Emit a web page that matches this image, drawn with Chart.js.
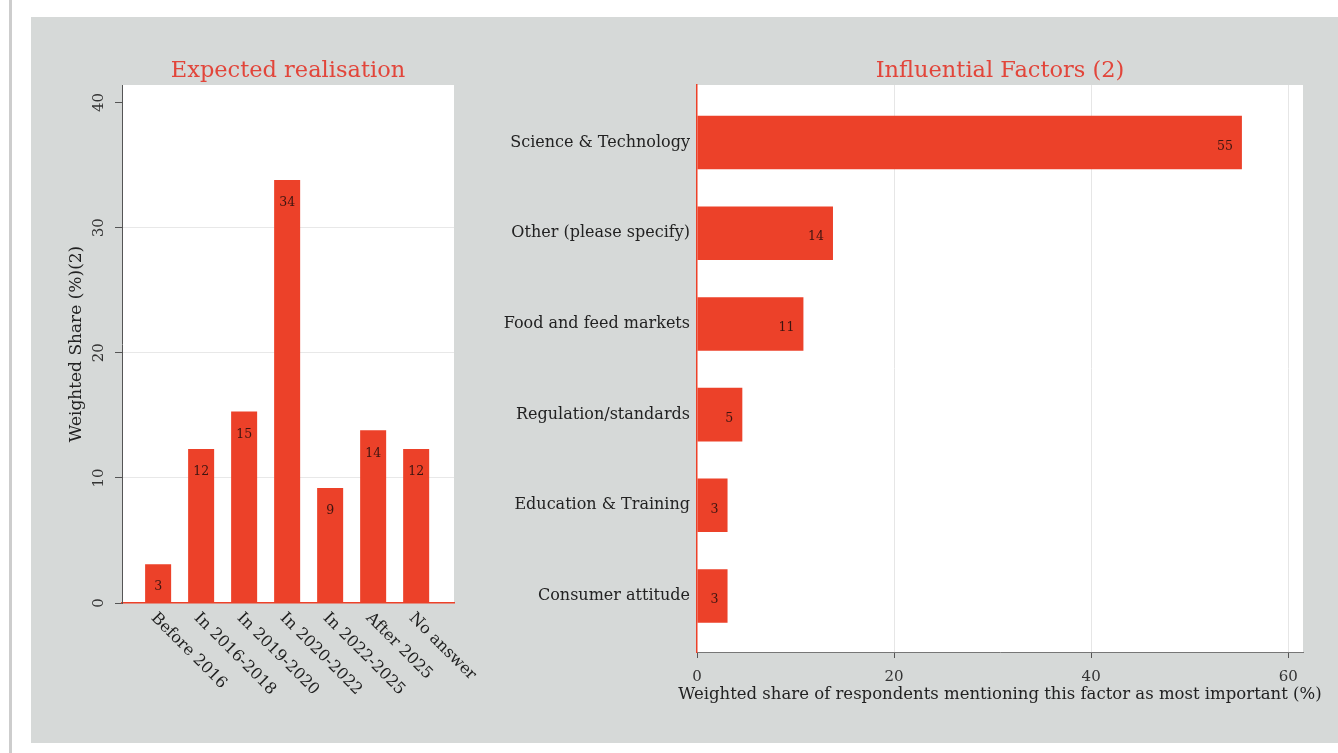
<!DOCTYPE html>
<html><head><meta charset="utf-8">
<script src="https://cdn.jsdelivr.net/npm/chart.js@4.4.1/dist/chart.umd.min.js"></script>
<style>
html,body{margin:0;padding:0;background:#fff;width:1338px;height:753px;overflow:hidden;}
#vline{position:absolute;left:9px;top:0;width:3px;height:753px;background:#cdcdcd;}
#panel{position:absolute;left:31px;top:17px;width:1307px;height:726px;background:#d6d9d8;}
#c1{position:absolute;left:31px;top:17px;width:450px;height:726px;}
#c2{position:absolute;left:481px;top:17px;width:857px;height:726px;}
</style></head><body>
<div id="vline"></div><div id="panel"></div>
<canvas id="c1" width="450" height="726"></canvas>
<canvas id="c2" width="857" height="726"></canvas>
<script>
// ---- data ----
const realisationCategories = ['Before 2016','In 2016-2018','In 2019-2020','In 2020-2022','In 2022-2025','After 2025','No answer'];
const realisationShares = [3.1, 12.3, 15.3, 33.8, 9.2, 13.8, 12.3];
const realisationTicks = [0, 10, 20, 30, 40];

const factorCategories = ['Science & Technology','Other (please specify)','Food and feed markets','Regulation/standards','Education & Training','Consumer attitude'];
const factorShares = [55.3, 13.8, 10.8, 4.6, 3.1, 3.1];
const factorTicks = [0, 20, 40, 60];
const factorAxisTitle = 'Weighted share of respondents mentioning this factor as most important (%)';

// ---- styles ----
const FONT = "'DejaVu Serif', serif";
Chart.defaults.font.family = FONT;
Chart.defaults.color = '#333';
const BAR = '#ec4129';
const TITLE = '#e2453a';
const LABEL_DARK = '#3d1510';

const plotBg = {id:'plotBg', beforeDraw(chart){
  const {ctx, chartArea:a} = chart;
  ctx.save(); ctx.fillStyle = '#fff'; ctx.fillRect(a.left, a.top, a.width, a.height); ctx.restore();
}};

const valueLabels = {id:'valueLabels', afterDatasetsDraw(chart, args, opts){
  const ctx = chart.ctx; const meta = chart.getDatasetMeta(0);
  ctx.save(); ctx.font = '12.5px ' + FONT; ctx.fillStyle = LABEL_DARK;
  meta.data.forEach((bar, i) => {
    const txt = String(Math.round(opts.values[i]));
    if (opts.horizontal) {
      ctx.textAlign = 'right'; ctx.textBaseline = 'middle';
      ctx.fillText(txt, bar.x - 9, bar.y + 4);
    } else {
      ctx.textAlign = 'center'; ctx.textBaseline = 'middle';
      ctx.fillText(txt, bar.x, bar.y + 23);
    }
  });
  ctx.restore();
}};

const slantedLabels = {id:'slantedLabels', afterDraw(chart, args, opts){
  if (!opts.labels) return;
  const xs = chart.scales.x; const ctx = chart.ctx;
  ctx.save(); ctx.font = '16px ' + FONT; ctx.fillStyle = '#222';
  ctx.textAlign = 'left'; ctx.textBaseline = 'top';
  opts.labels.forEach((c, i) => {
    const px = xs.getPixelForValue(i);
    ctx.save(); ctx.translate(px + 1, chart.chartArea.bottom + 7); ctx.rotate(Math.PI / 4);
    ctx.fillText(c, 0, 0); ctx.restore();
  });
  ctx.restore();
}};

const wideAxisTitle = {id:'wideAxisTitle', afterDraw(chart, args, opts){
  if (!opts.text) return;
  const a = chart.chartArea; const ctx = chart.ctx;
  ctx.save(); ctx.font = '16.5px ' + FONT; ctx.fillStyle = '#222';
  ctx.textAlign = 'center'; ctx.textBaseline = 'middle';
  ctx.fillText(opts.text, (a.left + a.right) / 2, a.bottom + 43);
  ctx.restore();
}};

new Chart(document.getElementById('c1'), {
  type: 'bar',
  data: { datasets: [{
    data: realisationShares.map((v, i) => ({x: i, y: v})),
    backgroundColor: BAR, borderWidth: 0, categoryPercentage: 1, barPercentage: 0.605
  }]},
  plugins: [plotBg, valueLabels, slantedLabels],
  options: {
    responsive: false, animation: false,
    layout: { padding: {left: 0, right: 27, top: 0, bottom: 0} },
    plugins: {
      legend: {display: false}, tooltip: {enabled: false},
      title: {display: true, text: 'Expected realisation', color: TITLE, fullSize: false,
              font: {size: 22.5, weight: 'normal'}, padding: {top: 41, bottom: 0}},
      valueLabels: {values: realisationShares, horizontal: false},
      slantedLabels: {labels: realisationCategories}
    },
    scales: {
      x: { type: 'linear', min: -0.84, max: 6.88, offset: false,
           afterBuildTicks(s){ s.ticks = realisationCategories.map((_, i) => ({value: i})); },
           ticks: {display: false}, grid: {display: false, drawTicks: false, offset: false},
           border: {display: true, color: BAR, width: 1.5},
           afterFit(s){ s.height = 140; } },
      y: { type: 'linear', min: 0, max: 41.4,
           afterBuildTicks(s){ s.ticks = realisationTicks.map(v => ({value: v})); },
           ticks: {minRotation: 90, maxRotation: 90, crossAlign: 'center', padding: 6, color: '#333', font: {size: 15}},
           grid: {color: c => (c.tick && c.tick.value > 0 && c.tick.value < 40) ? '#e8e8e8' : 'rgba(0,0,0,0)',
                  tickColor: '#555', tickLength: 7, drawTicks: true},
           border: {color: '#555', width: 1},
           title: {display: true, text: 'Weighted Share (%)(2)', color: '#222', font: {size: 17}, padding: {top: 35}},
           afterFit(s){ s.width = 91; } }
    }
  }
});

new Chart(document.getElementById('c2'), {
  type: 'bar',
  data: { datasets: [{
    data: factorShares.map((v, i) => ({x: v, y: i})),
    backgroundColor: BAR, borderWidth: 0, categoryPercentage: 1, barPercentage: 0.59
  }]},
  plugins: [plotBg, valueLabels, wideAxisTitle],
  options: {
    indexAxis: 'y',
    responsive: false, animation: false,
    layout: { padding: {left: 0, right: 35, top: 0, bottom: 0} },
    plugins: {
      legend: {display: false}, tooltip: {enabled: false},
      title: {display: true, text: 'Influential Factors (2)', color: TITLE, fullSize: false,
              font: {size: 22.5, weight: 'normal'}, padding: {top: 41, bottom: 0}},
      valueLabels: {values: factorShares, horizontal: true},
      wideAxisTitle: {text: factorAxisTitle}
    },
    scales: {
      x: { type: 'linear', min: 0, max: 61.5,
           afterBuildTicks(s){ s.ticks = factorTicks.map(v => ({value: v})); },
           ticks: {padding: 10, color: '#333', font: {size: 15}},
           grid: {color: c => (c.tick && c.tick.value > 0) ? '#e6e6e6' : 'rgba(0,0,0,0)',
                  tickColor: '#555', tickLength: 6},
           border: {color: '#777', width: 1},
           afterFit(s){ s.height = 91; } },
      y: { type: 'linear', reverse: true, min: -0.634, max: 5.617, offset: false,
           afterBuildTicks(s){ s.ticks = factorCategories.map((_, i) => ({value: i})); },
           ticks: {callback: v => factorCategories[v], color: '#222', font: {size: 16}, padding: 7},
           grid: {display: false, drawTicks: false, offset: false},
           border: {color: BAR, width: 1.5},
           afterFit(s){ s.width = 216; } }
    }
  }
});
</script>
</body></html>
